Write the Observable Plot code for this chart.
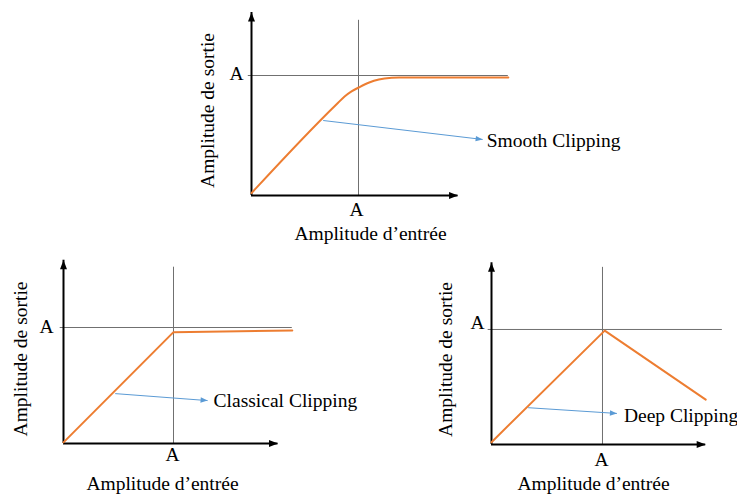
<!DOCTYPE html>
<html>
<head>
<meta charset="utf-8">
<script src="https://cdn.jsdelivr.net/npm/d3@7"></script>
<script src="https://cdn.jsdelivr.net/npm/@observablehq/plot@0.6"></script>
<style>
  html, body { margin: 0; padding: 0; background: #fff; }
  #chart { position: relative; width: 737px; height: 495px; overflow: hidden; background: #fff; }
  #chart > div { position: absolute; }
</style>
</head>
<body>
<div id="chart"></div>
<script>
// ---------- data (values in units of A) ----------
const A = 1;
const tickLabel = "A";
const xLabel = "Amplitude d’entrée";
const yLabel = "Amplitude de sortie";
const annotations = ["Smooth Clipping", "Classical Clipping", "Deep Clipping"];

// Smooth clipping transfer curve
const smoothIn  = [0, 0.80, 0.87, 0.935, 1.01, 1.10, 1.19, 1.31, 1.38, 2.40];
const smoothOut = [0.02, 0.765, 0.825, 0.867, 0.904, 0.942, 0.967, 0.981, 0.983, 0.983];
// Classical clipping transfer curve
const classicalIn  = [0, 1, 2.08];
const classicalOut = [0.01, 0.96, 0.975];
// Deep clipping transfer curve
const deepIn  = [0, 1.02, 1.93];
const deepOut = [0.02, 0.99, 0.39];

// annotation arrows: start on the curve, end at the label
const arrowFromX = [0.67, 0.47, 0.33];
const arrowFromY = [0.625, 0.43, 0.32];
const arrowToX   = [2.16, 1.31, 1.13];
const arrowToY   = [0.467, 0.37, 0.27];

// axis arrow extents and reference-line extents
const axisXEnd = [1.93, 1.95, 1.93];
const axisYEnd = [1.525, 1.58, 1.58];
const refXEnd  = [2.40, 2.08, 2.08];
const refYEnd  = [1.46, 1.52, 1.54];

const curvesIn  = [smoothIn, classicalIn, deepIn];
const curvesOut = [smoothOut, classicalOut, deepOut];
const curveTypes = ["monotone-x", "linear", "linear"];

// ---------- layout (pixels) ----------
const layout = [
  {left: 180, top: 0,   width: 460, height: 248, ml: 71, mr: 151, mt: 25, mb: 53, xMax: 2.224, yMax: 1.4167,
   yTick: [-8, -1.5], xTick: [-2, 14], titleDy: 38.5, ylabDx: -44, ann: [4, 1]},
  {left: 0,   top: 250, width: 370, height: 245, ml: 63, mr: 109, mt: 24, mb: 52, xMax: 1.8, yMax: 1.457,
   yTick: [-10, -1], xTick: [-1, 11], titleDy: 40, ylabDx: -43, ann: [6, 0]},
  {left: 400, top: 250, width: 337, height: 245, ml: 91, mr: 42, mt: 24, mb: 51, xMax: 1.838, yMax: 1.478,
   yTick: [-7, -7], xTick: [-1, 15.5], titleDy: 39.5, ylabDx: -46, ann: [7, 2]}
];

const ORANGE = "#ED7D31", BLUE = "#5B9BD5", GRAY = "#707070", BLACK = "#000";
const FONT = "'Liberation Serif', 'Times New Roman', Times, serif";

// filled triangular arrowhead, tip at the dot position
function headSymbol(theta, len, wid) {
  return {
    draw(ctx) {
      const c = Math.cos(theta), s = Math.sin(theta);
      const bx = -len * c, by = -len * s;
      const px = -s * wid / 2, py = c * wid / 2;
      ctx.moveTo(0, 0);
      ctx.lineTo(bx + px, by + py);
      ctx.lineTo(bx - px, by - py);
      ctx.closePath();
    }
  };
}

const chart = document.getElementById("chart");

layout.forEach((L, i) => {
  const kx = (L.width - L.ml - L.mr) / L.xMax;
  const ky = (L.height - L.mt - L.mb) / L.yMax;
  const blueTheta = Math.atan2(-(arrowToY[i] - arrowFromY[i]) * ky, (arrowToX[i] - arrowFromX[i]) * kx);

  const plot = Plot.plot({
    width: L.width,
    height: L.height,
    marginLeft: L.ml, marginRight: L.mr, marginTop: L.mt, marginBottom: L.mb,
    x: {domain: [0, L.xMax], axis: null},
    y: {domain: [0, L.yMax], axis: null},
    style: {fontFamily: FONT, fontSize: "19.5px", background: "transparent", overflow: "visible", color: BLACK},
    marks: [
      // reference lines at A
      Plot.ruleY([A], {x1: -0.03, x2: refXEnd[i], stroke: GRAY, strokeWidth: 1}),
      Plot.ruleX([A], {y1: 0, y2: refYEnd[i], stroke: GRAY, strokeWidth: 1}),
      // axes
      Plot.ruleX([0], {y1: 0, y2: axisYEnd[i], stroke: BLACK, strokeWidth: 2}),
      Plot.ruleY([0], {x1: 0, x2: axisXEnd[i], stroke: BLACK, strokeWidth: 2}),
      Plot.dot([0], {x: 0, y: axisYEnd[i], r: 3, symbol: headSymbol(-Math.PI / 2, 9, 7), fill: BLACK, stroke: "none"}),
      Plot.dot([0], {x: axisXEnd[i], y: 0, r: 3, symbol: headSymbol(0, 9, 7), fill: BLACK, stroke: "none"}),
      // transfer curve
      Plot.line(curvesIn[i], {x: curvesIn[i], y: curvesOut[i], stroke: ORANGE, strokeWidth: 2, curve: curveTypes[i]}),
      // annotation arrow
      Plot.link([0], {x1: arrowFromX[i], y1: arrowFromY[i], x2: arrowToX[i], y2: arrowToY[i], stroke: BLUE, strokeWidth: 1}),
      Plot.dot([0], {x: arrowToX[i], y: arrowToY[i], r: 3, symbol: headSymbol(blueTheta, 7, 5.5), fill: BLUE, stroke: "none"}),
      Plot.text([annotations[i]], {x: arrowToX[i], y: arrowToY[i], textAnchor: "start", lineAnchor: "middle", dx: L.ann[0], dy: L.ann[1], fill: BLACK}),
      // tick labels
      Plot.text([tickLabel], {y: A, frameAnchor: "left", textAnchor: "end", lineAnchor: "middle", dx: L.yTick[0], dy: L.yTick[1], fill: BLACK}),
      Plot.text([tickLabel], {x: A, frameAnchor: "bottom", textAnchor: "middle", lineAnchor: "middle", dx: L.xTick[0], dy: L.xTick[1], fill: BLACK}),
      // axis titles
      Plot.text([xLabel], {frameAnchor: "bottom", textAnchor: "middle", lineAnchor: "middle", dy: L.titleDy, fill: BLACK}),
      Plot.text([yLabel], {frameAnchor: "left", rotate: -90, textAnchor: "middle", lineAnchor: "middle", dx: L.ylabDx, fill: BLACK})
    ]
  });

  const holder = document.createElement("div");
  holder.style.left = L.left + "px";
  holder.style.top = L.top + "px";
  holder.appendChild(plot);
  chart.appendChild(holder);
});
</script>
</body>
</html>
